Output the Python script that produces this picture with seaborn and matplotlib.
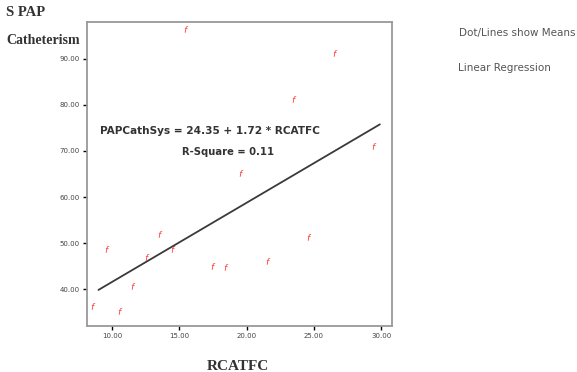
import numpy as np
import pandas as pd
import seaborn as sns
import matplotlib.pyplot as plt

# values
rcatfc = [15.5, 26.6, 23.5, 29.5, 19.6, 13.6, 9.6, 12.6, 14.5, 17.5, 18.5, 21.6, 24.6, 11.6, 8.6, 10.6]
pap_cath_sys = [96.5, 91.3, 81.3, 71.1, 65.2, 52.0, 48.7, 47.0, 48.7, 45.0, 44.8, 46.1, 51.3, 40.6, 36.3, 35.2]
fit_intercept = 24.35
fit_slope = 1.72
fit_x = [9.0, 29.9]
x_ticks = [10, 15, 20, 25, 30]
y_ticks = [40, 50, 60, 70, 80, 90]

df = pd.DataFrame({"RCATFC": rcatfc, "PAPCathSys": pap_cath_sys})
fit = pd.DataFrame({"RCATFC": fit_x})
fit["PAPCathSys"] = fit_intercept + fit_slope * fit["RCATFC"]

sns.set_style("white")
fig = plt.figure(figsize=(5.77, 3.72), dpi=100)
ax = fig.add_axes([87 / 577, 46 / 372, 305 / 577, 304 / 372])

sns.lineplot(data=fit, x="RCATFC", y="PAPCathSys", ax=ax, color="#3a3a3a", linewidth=1.3)
sns.scatterplot(data=df, x="RCATFC", y="PAPCathSys", ax=ax, marker="$f$", color="#ff2a2a",
                s=22, linewidth=0)

ax.set_xlim(8.15, 30.8)
ax.set_ylim(32, 98)
ax.set_xticks(x_ticks)
ax.set_xticklabels([f"{v:.2f}" for v in x_ticks])
ax.set_yticks(y_ticks)
ax.set_yticklabels([f"{v:.2f}" for v in y_ticks])
ax.tick_params(axis="both", direction="out", length=3, width=1, color="black",
               labelsize=5, labelcolor="#444444", pad=2, bottom=True, left=True)
for sp in ax.spines.values():
    sp.set_color("#999999")
    sp.set_linewidth(1.3)
ax.set_xlabel("")
ax.set_ylabel("")

ax.text(9.1, 74.3, "PAPCathSys = 24.35 + 1.72 * RCATFC", fontsize=7.6, fontweight="bold",
        color="#333333", va="center")
ax.text(15.2, 69.8, "R-Square = 0.11", fontsize=7.2, fontweight="bold",
        color="#333333", va="center")

fig.text(6 / 577, 1 - 13 / 372, "S PAP", family="Liberation Serif", fontweight="bold",
         fontsize=10.5, color="#333333", va="center")
fig.text(6 / 577, 1 - 41 / 372, "Catheterism", family="Liberation Serif", fontweight="bold",
         fontsize=10, color="#333333", va="center")
fig.text(238 / 577, 1 - 366 / 372, "RCATFC", family="Liberation Serif", fontweight="bold",
         fontsize=11, color="#333333", ha="center", va="center")

fig.text(459 / 577, 1 - 33 / 372, "Dot/Lines show Means", fontsize=7.5, color="#555555", va="center")
fig.text(458 / 577, 1 - 68 / 372, "Linear Regression", fontsize=7.5, color="#555555", va="center")

plt.savefig("out.png", dpi=100)
plt.close()
